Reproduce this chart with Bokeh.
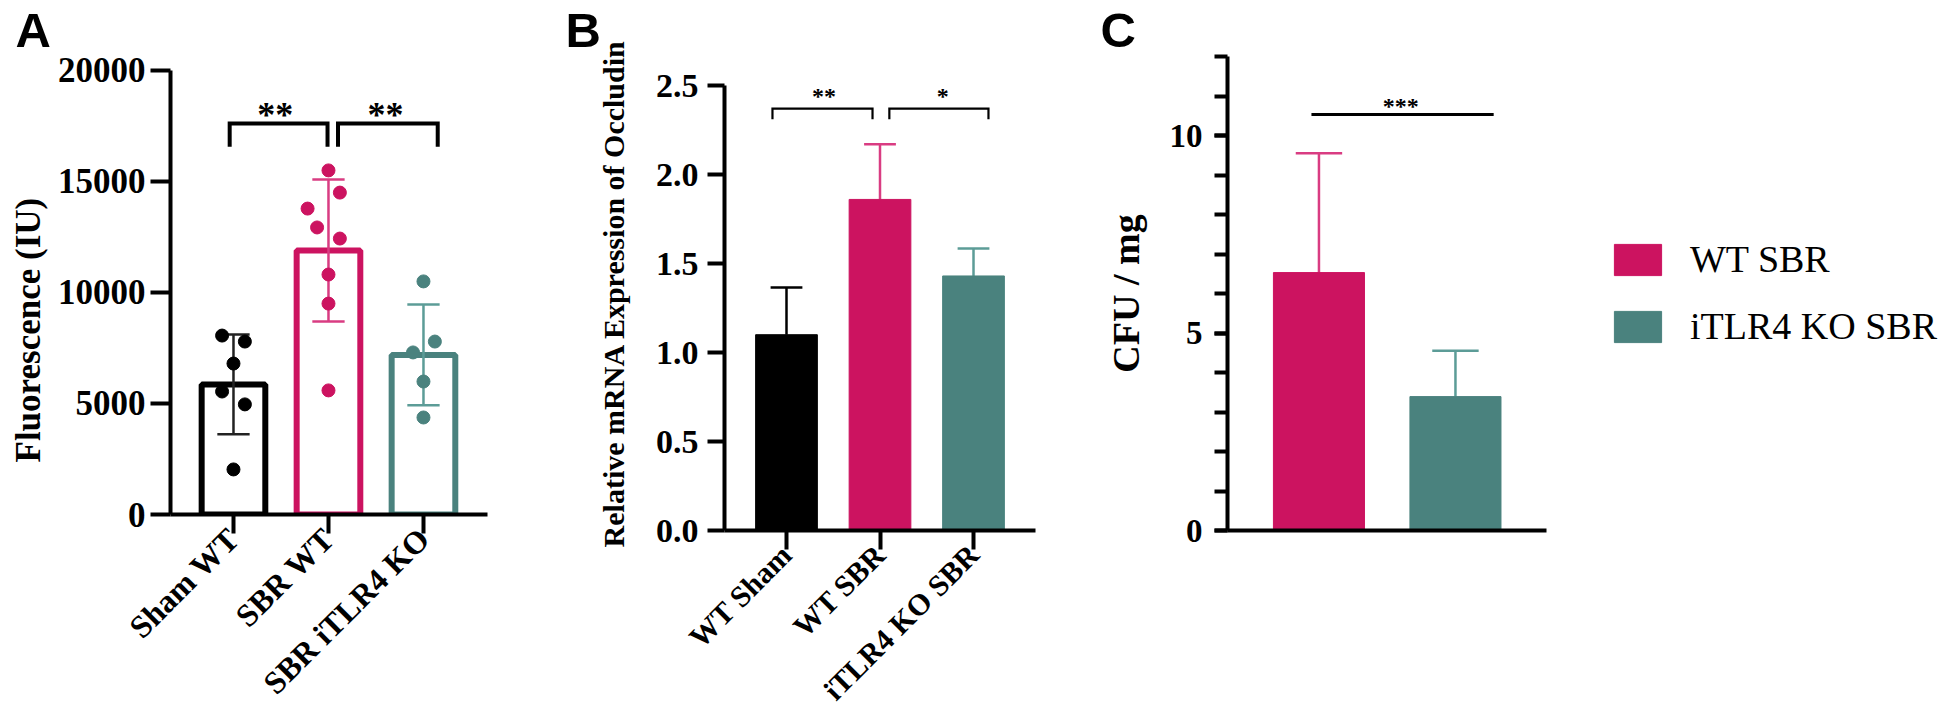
import math
from bokeh.plotting import figure
from bokeh.models import (FixedTicker, NumeralTickFormatter, Label, Legend, LegendItem,
                          ColumnDataSource, Range1d, Title)
from bokeh.layouts import row
from bokeh.embed import file_html
from bokeh.resources import INLINE

SERIF = "Liberation Serif"
SANS = "Liberation Sans"
PINK = "#CC1360"
TEAL = "#4A827E"
PINK_ERR = "#D93C82"
TEAL_ERR = "#5C9C97"

# ---------------- Panel A data ----------------
a_groups = ["Sham WT", "SBR WT", "SBR iTLR4 KO"]
a_mean = [5860, 11890, 7190]
a_sd = [2250, 3200, 2270]
a_sham_pts = [8060, 7790, 6800, 5540, 4960, 2030]
a_sbr_pts = [15500, 14500, 13780, 12930, 12430, 10810, 9500, 5590]
a_ko_pts = [10500, 7790, 7300, 5990, 4370]
a_sham_jit = [-0.12, 0.12, 0.0, -0.12, 0.12, 0.0]
a_sbr_jit = [0.0, 0.12, -0.22, -0.12, 0.12, 0.0, 0.0, 0.0]
a_ko_jit = [0.0, 0.12, -0.11, 0.0, 0.0]
a_yticks = [0, 5000, 10000, 15000, 20000]
a_sig_text = ["**", "**"]
a_sig_x0 = [-0.04, 1.10]
a_sig_x1 = [0.99, 2.15]
a_sig_y = [17610, 17610]
a_sig_tx = [0.44, 1.60]

# ---------------- Panel B data ----------------
b_groups = ["WT Sham", "WT SBR", "iTLR4 KO SBR"]
b_mean = [1.10, 1.86, 1.43]
b_err = [0.265, 0.31, 0.155]
b_yticks = [0.0, 0.5, 1.0, 1.5, 2.0, 2.5]
b_sig_text = ["**", "*"]
b_sig_x0 = [-0.15, 1.10]
b_sig_x1 = [0.92, 2.16]
b_sig_y = [2.37, 2.37]
b_sig_tx = [0.40, 1.67]

# ---------------- Panel C data ----------------
c_groups = ["WT SBR", "iTLR4 KO SBR"]
c_mean = [6.53, 3.39]
c_err = [3.02, 1.16]
c_major = [0, 5, 10]
c_minor = [0, 1, 2, 3, 4, 5, 6, 7, 8, 9, 10, 11, 12]
c_sig_text = "***"
c_sig_x0, c_sig_x1, c_sig_y, c_sig_tx = -0.055, 1.28, 10.53, 0.60

TOP = 55


def make_fig(fw, fh, left, right, bottom, xr, yr):
    p = figure(frame_width=fw, frame_height=fh,
               min_border_left=left, min_border_right=right,
               min_border_top=TOP, min_border_bottom=bottom,
               x_range=Range1d(*xr), y_range=Range1d(*yr),
               output_backend="svg", toolbar_location=None, tools="")
    p.outline_line_color = None
    p.grid.visible = False
    p.background_fill_color = "white"
    p.border_fill_color = "white"
    for ax in p.axis:
        ax.axis_line_color = "black"
        ax.axis_line_width = 4
        ax.major_tick_line_color = "black"
        ax.major_tick_line_width = 4
        ax.major_tick_in = 0
        ax.minor_tick_line_color = None
        ax.major_label_text_font = SERIF
        ax.major_label_text_font_style = "bold"
        ax.major_label_text_color = "black"
        ax.axis_label_text_font = SERIF
        ax.axis_label_text_font_style = "bold"
        ax.axis_label_text_color = "black"
    return p


def letter(p, txt, off):
    p.title.text = txt
    p.title.align = "left"
    p.title.offset = off
    p.title.standoff = 0
    p.title.text_font = SANS
    p.title.text_font_style = "bold"
    p.title.text_font_size = "49px"
    p.title.text_color = "black"


def star(p, txt, x, y, yo, size):
    p.add_layout(Label(x=x, y=y, y_offset=yo, text=txt, text_font=SERIF,
                       text_font_style="bold", text_font_size=size,
                       text_align="center", text_baseline="alphabetic",
                       text_color="black"))


cap = 0.17

# ================= Panel A =================
pa = make_fig(317, 458, 170, 72, 211, (-0.663, 2.674), (0, 20630.6))
ax_idx = list(range(len(a_groups)))
pa.yaxis.ticker = FixedTicker(ticks=a_yticks)
pa.yaxis.bounds = (a_yticks[0], a_yticks[-1])
pa.yaxis.formatter = NumeralTickFormatter(format="0")
pa.yaxis.major_tick_out = 20
pa.yaxis.major_label_standoff = 5
pa.yaxis.major_label_text_font_size = "35px"
pa.xaxis.ticker = FixedTicker(ticks=ax_idx)
pa.xaxis.major_label_overrides = {i: g for i, g in enumerate(a_groups)}
pa.xaxis.major_label_orientation = math.pi / 4
pa.xaxis.major_tick_out = 19
pa.xaxis.major_label_standoff = 0
pa.xaxis.major_label_text_font_size = "32px"

a_cols = ["black", PINK, TEAL]
a_ecols = ["#222222", PINK_ERR, TEAL_ERR]
src_a = ColumnDataSource(dict(x=ax_idx, top=a_mean, col=a_cols))
pa.vbar(x="x", top="top", bottom=0, width=0.67, source=src_a,
        fill_color=None, line_color="col", line_width=6)
a_lo = [m - s for m, s in zip(a_mean, a_sd)]
a_hi = [m + s for m, s in zip(a_mean, a_sd)]
pa.segment(x0=ax_idx, y0=a_lo, x1=ax_idx, y1=a_hi, line_color=a_ecols, line_width=2.5)
pa.segment(x0=[i - cap for i in ax_idx], y0=a_hi, x1=[i + cap for i in ax_idx], y1=a_hi,
           line_color=a_ecols, line_width=2.5)
pa.segment(x0=[i - cap for i in ax_idx], y0=a_lo, x1=[i + cap for i in ax_idx], y1=a_lo,
           line_color=a_ecols, line_width=2.5)
for gi, (pts, jit, c) in enumerate([(a_sham_pts, a_sham_jit, "black"),
                                    (a_sbr_pts, a_sbr_jit, PINK),
                                    (a_ko_pts, a_ko_jit, TEAL)]):
    pa.scatter(x=[gi + j for j in jit], y=pts, size=13, color=c)
drop_a = 1040
pa.multi_line(xs=[[x0, x0, x1, x1] for x0, x1 in zip(a_sig_x0, a_sig_x1)],
              ys=[[y - drop_a, y, y, y - drop_a] for y in a_sig_y],
              line_color="black", line_width=4, line_join="miter")
for t, tx, ty in zip(a_sig_text, a_sig_tx, a_sig_y):
    star(pa, t, tx, ty, 9, "36px")
letter(pa, "A", -155)
# y label of A: a side title so that it can sit lower than the axis centre, as in the figure
pa.add_layout(Title(text="Fluorescence (IU)", align="left", offset=52, standoff=13,
                    text_font=SERIF, text_font_style="bold", text_font_size="35px",
                    text_color="black"), "left")

# ================= Panel B =================
pb = make_fig(311, 474, 165, 52, 195, (-0.663, 2.663), (0, 2.663))
bx = list(range(len(b_groups)))
pb.yaxis.ticker = FixedTicker(ticks=b_yticks)
pb.yaxis.bounds = (b_yticks[0], b_yticks[-1])
pb.yaxis.formatter = NumeralTickFormatter(format="0.0")
pb.yaxis.major_tick_out = 17
pb.yaxis.major_label_standoff = 9
pb.yaxis.major_label_text_font_size = "34px"
pb.yaxis.axis_label = "Relative mRNA Expression of Occludin"
pb.yaxis.axis_label_text_font_size = "30px"
pb.yaxis.axis_label_standoff = 23
pb.xaxis.ticker = FixedTicker(ticks=bx)
pb.xaxis.major_label_overrides = {i: g for i, g in enumerate(b_groups)}
pb.xaxis.major_label_orientation = math.pi / 4
pb.xaxis.major_tick_out = 19
pb.xaxis.major_label_standoff = 0
pb.xaxis.major_label_text_font_size = "30px"

b_cols = ["black", PINK, TEAL]
b_ecols = ["black", PINK_ERR, TEAL_ERR]
b_hi = [m + e for m, e in zip(b_mean, b_err)]
pb.segment(x0=bx, y0=b_mean, x1=bx, y1=b_hi, line_color=b_ecols, line_width=2.5)
pb.segment(x0=[i - cap for i in bx], y0=b_hi, x1=[i + cap for i in bx], y1=b_hi,
           line_color=b_ecols, line_width=2.5)
src_b = ColumnDataSource(dict(x=bx, top=b_mean, col=b_cols))
pb.vbar(x="x", top="top", bottom=0, width=0.66, source=src_b,
        fill_color="col", line_color="col", line_width=1)
drop_b = 0.06
pb.multi_line(xs=[[x0, x0, x1, x1] for x0, x1 in zip(b_sig_x0, b_sig_x1)],
              ys=[[y - drop_b, y, y, y - drop_b] for y in b_sig_y],
              line_color="black", line_width=2.2, line_join="miter")
for t, tx, ty in zip(b_sig_text, b_sig_tx, b_sig_y):
    star(pb, t, tx, ty, 13, "24px")
letter(pb, "B", -159)

# ================= Panel C =================
C_XL, C_XR = -0.670, 1.667
C_FW = 721
pc = make_fig(C_FW, 474, 140, 0, 195, (C_XL, C_XL + C_FW / 136.5), (0, 12))
cx = list(range(len(c_groups)))
pc.yaxis.ticker = FixedTicker(ticks=c_major, minor_ticks=c_minor)
pc.yaxis.formatter = NumeralTickFormatter(format="0")
pc.yaxis.major_tick_out = 13
pc.yaxis.minor_tick_out = 13
pc.yaxis.minor_tick_in = 0
pc.yaxis.minor_tick_line_color = "black"
pc.yaxis.minor_tick_line_width = 4
pc.yaxis.major_label_standoff = 12
pc.yaxis.major_label_text_font_size = "33px"
pc.yaxis.axis_label = "CFU / mg"
pc.yaxis.axis_label_text_font_size = "38px"
pc.yaxis.axis_label_standoff = 20
pc.xaxis.ticker = FixedTicker(ticks=[])
pc.xaxis.major_tick_out = 0
pc.xaxis.bounds = (C_XL, C_XR)

c_cols = [PINK, TEAL]
c_ecols = [PINK_ERR, TEAL_ERR]
c_hi = [m + e for m, e in zip(c_mean, c_err)]
pc.segment(x0=cx, y0=c_mean, x1=cx, y1=c_hi, line_color=c_ecols, line_width=2.5)
pc.segment(x0=[i - cap for i in cx], y0=c_hi, x1=[i + cap for i in cx], y1=c_hi,
           line_color=c_ecols, line_width=2.5)
src_c = ColumnDataSource(dict(x=cx, top=c_mean, col=c_cols))
rc = pc.vbar(x="x", top="top", bottom=0, width=0.667, source=src_c,
             fill_color="col", line_color="col", line_width=1)
pc.line(x=[c_sig_x0, c_sig_x1], y=[c_sig_y, c_sig_y], line_color="black", line_width=3)
star(pc, c_sig_text, c_sig_tx, c_sig_y, 9, "24px")
letter(pc, "C", -127)

legend = Legend(items=[LegendItem(label=g, renderers=[rc], index=i) for i, g in enumerate(c_groups)],
                location=(381, 182), glyph_width=59, glyph_height=39, label_height=39,
                label_standoff=23, spacing=23, padding=0, margin=0,
                border_line_color=None, background_fill_alpha=0,
                label_text_font=SERIF, label_text_font_size="38px",
                label_text_color="black")
pc.add_layout(legend)

layout = row(pa, pb, pc, spacing=0)
open("out.html", "w").write(file_html(layout, INLINE))
